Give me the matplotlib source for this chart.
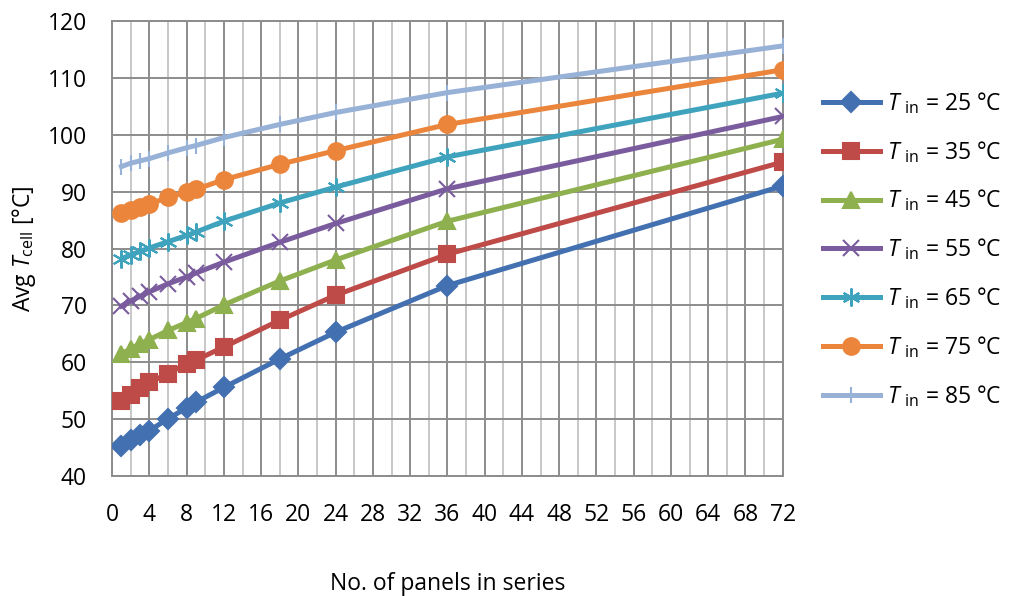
import matplotlib
matplotlib.use("Agg")
import matplotlib.pyplot as plt
from matplotlib.ticker import MultipleLocator

plt.rcParams["font.family"] = ["Open Sans", "DejaVu Sans"]
plt.rcParams["mathtext.fontset"] = "custom"
plt.rcParams["mathtext.rm"] = "Open Sans"
plt.rcParams["mathtext.it"] = "Open Sans:italic"

# panels in series
panels = [1, 2, 3, 4, 6, 8, 9, 12, 18, 24, 36, 72]

# avg cell temperature for each inlet temperature
t25 = [45.3, 46.3, 47.2, 48.0, 50.1, 52.0, 53.0, 55.6, 60.6, 65.3, 73.5, 91.0]
t35 = [53.2, 54.3, 55.5, 56.5, 58.0, 59.8, 60.4, 62.7, 67.4, 71.8, 79.0, 95.2]
t45 = [61.5, 62.4, 63.3, 64.0, 65.6, 67.0, 67.7, 70.1, 74.3, 78.0, 84.8, 99.2]
t55 = [69.9, 70.8, 71.6, 72.4, 73.8, 75.0, 75.7, 77.6, 81.1, 84.4, 90.5, 103.2]
t65 = [78.2, 78.9, 79.5, 80.1, 81.2, 82.3, 82.9, 84.8, 88.0, 90.8, 96.1, 107.3]
t75 = [86.2, 86.8, 87.3, 87.8, 89.0, 89.9, 90.4, 92.1, 94.8, 97.2, 101.8, 111.4]
t85 = [94.4, 95.0, 95.4, 95.8, 96.8, 97.7, 98.1, 99.5, 101.8, 103.9, 107.4, 115.6]

series = [
    ("25", t25, "#4270B0", "D", 10),
    ("35", t35, "#BE4B48", "s", 11),
    ("45", t45, "#8FB04F", "^", 11),
    ("55", t55, "#7A5C9E", "x", 12),
    ("65", t65, "#3FA3BD", (6, 2, 0), 13),
    ("75", t75, "#EA853B", "o", 12),
    ("85", t85, "#98B1D6", "|", 12),
]

fs = 16.5

fig = plt.figure(figsize=(10.1, 5.96), dpi=100)
ax = fig.add_axes([0.111, 0.201, 0.664, 0.764])

for tin, vals, col, mk, ms in series:
    ax.plot(panels, vals, color=col, lw=3.6, marker=mk, markersize=ms,
            markeredgewidth=1.5, markeredgecolor=col, markerfacecolor=col,
            label=r"$T$ $_{\rm in}$ = " + tin + " °C", zorder=3)

ax.set_xlim(0, 72)
ax.set_ylim(40, 120)
ax.xaxis.set_major_locator(MultipleLocator(4))
ax.xaxis.set_minor_locator(MultipleLocator(2))
ax.yaxis.set_major_locator(MultipleLocator(10))
ax.grid(which="minor", axis="x", color="#C8C8C8", lw=1.4)
ax.grid(which="major", axis="x", color="#8C8C8C", lw=1.4)
ax.grid(which="major", axis="y", color="#8C8C8C", lw=1.4)
ax.set_axisbelow(True)
for s in ax.spines.values():
    s.set_color("#8C8C8C")
    s.set_linewidth(1.4)

ax.tick_params(which="both", length=0, labelsize=fs, colors="black")
ax.tick_params(axis="x", pad=19)
ax.tick_params(axis="y", pad=18)

ax.set_xlabel("No. of panels in series", fontsize=fs, labelpad=33)
ax.set_ylabel(r"Avg $T_{\rm cell}$ [°C]", fontsize=fs, labelpad=7)

ax.legend(loc="center left", bbox_to_anchor=(1.029, 0.498), frameon=False,
          fontsize=fs, handlelength=2.5, handletextpad=0.3,
          labelspacing=1.0, numpoints=1)

fig.savefig("out.png", dpi=100)
